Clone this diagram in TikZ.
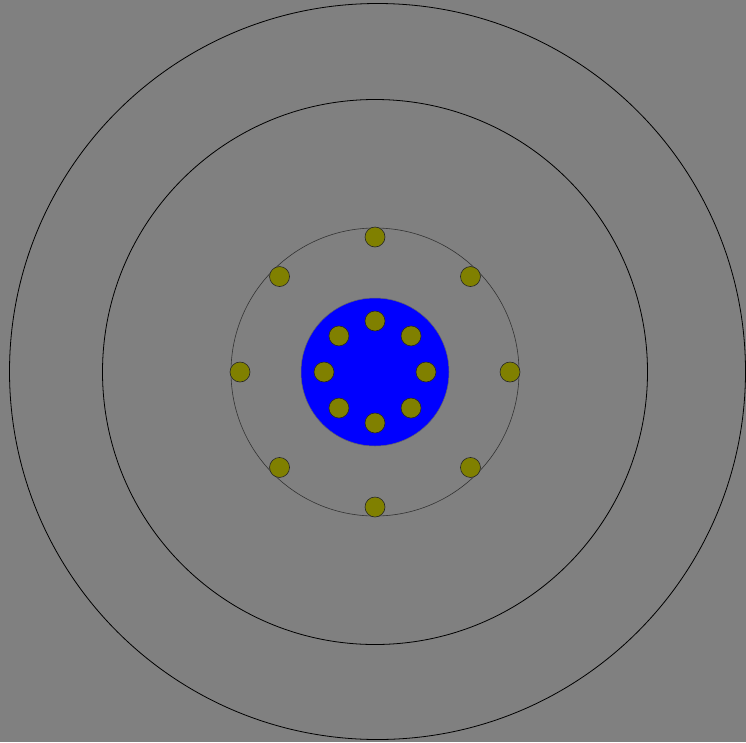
\documentclass[tikz,border=0pt]{standalone}
\usetikzlibrary{calc}
\definecolor{bggray}{HTML}{808080}
\definecolor{dotolive}{HTML}{808000}
\tikzset{dot/.style={fill=dotolive,draw=black!85,line width=0.6pt}}
\begin{document}
\begin{tikzpicture}[x=1pt,y=-1pt]
\fill[bggray] (0,0) rectangle (746,742);
\useasboundingbox (0,0) rectangle (746,742);
\coordinate (c) at (375,372);
\draw[line width=0.8pt] (377.5,371.5) circle (368);
\draw[line width=0.8pt] (c) circle (272.5);
\draw[line width=0.6pt,black!80] (c) circle (144);
\fill[blue] (c) circle (74);
\draw[line width=0.5pt,black!60] (c) circle (74);
\foreach \a in {0,45,...,315} {
  \draw[dot] ($(c)+(\a:135)$) circle (10);
  \draw[dot] ($(c)+(\a:51)$) circle (10);
}
\end{tikzpicture}
\end{document}
